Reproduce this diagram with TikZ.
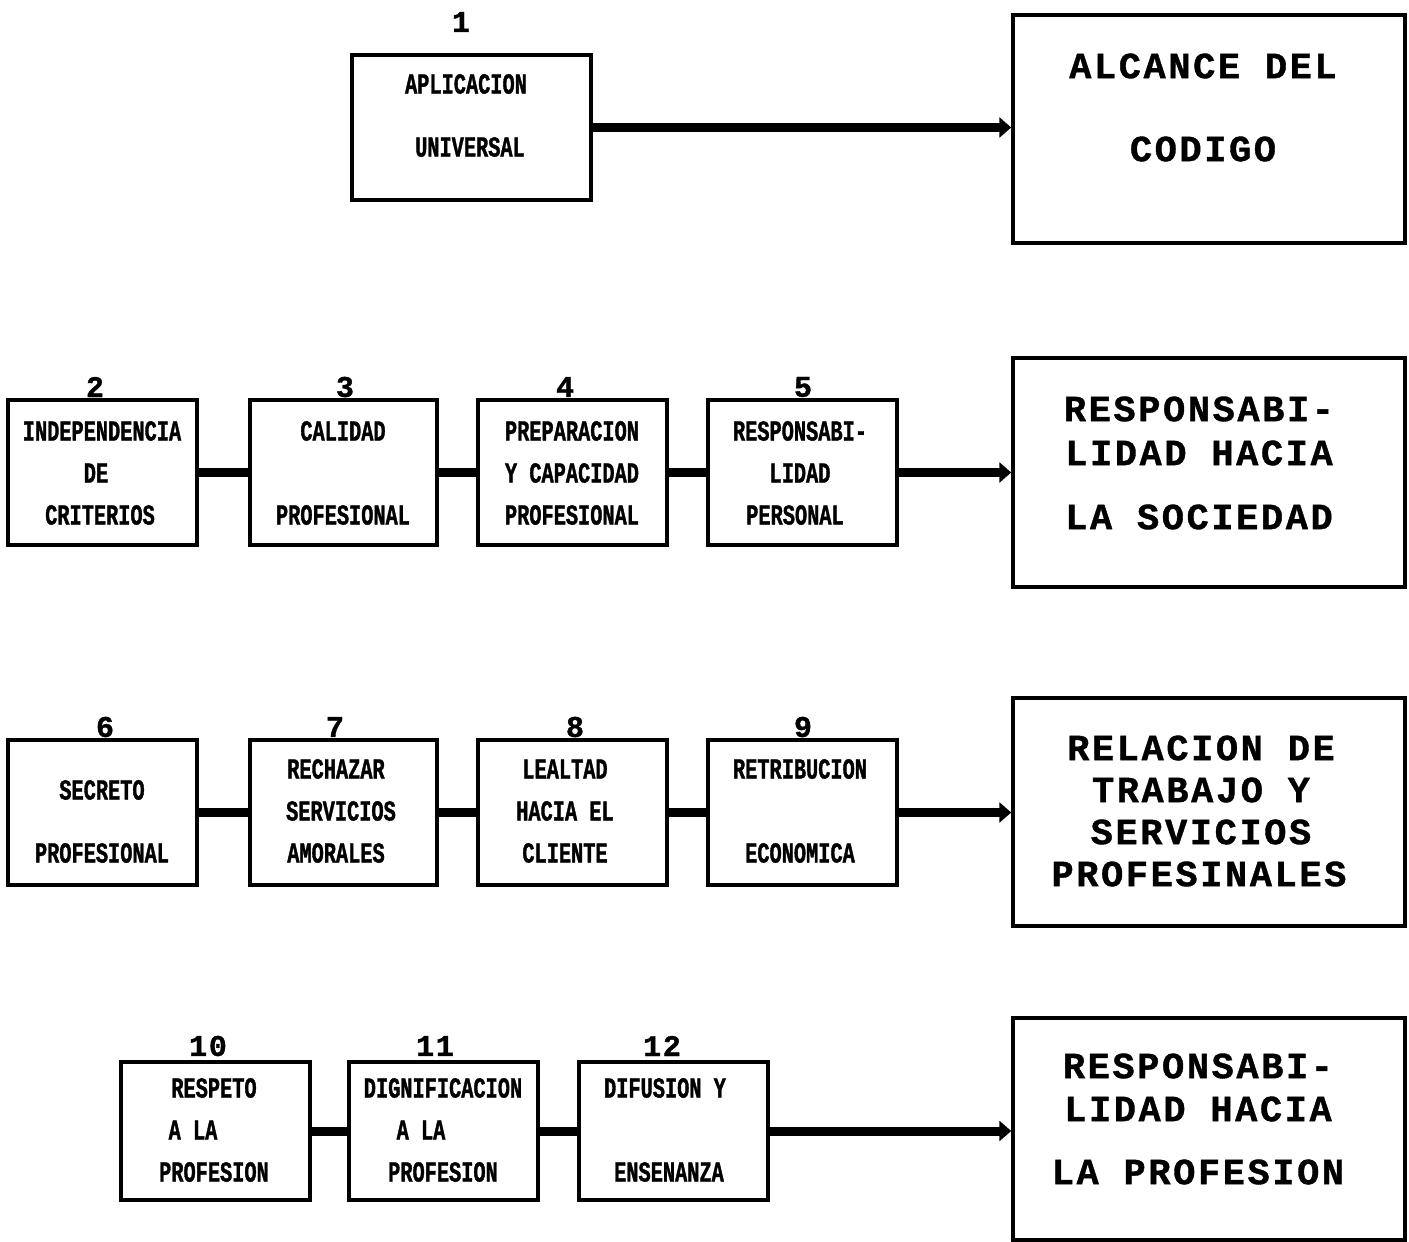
\documentclass[tikz,border=0pt]{standalone}
\usepackage{fontspec}
\usetikzlibrary{arrows.meta}
\newfontfamily\smallf{Liberation Mono}[FakeStretch=0.7,FakeBold=1.2]
\newfontfamily\bigf{Liberation Mono}[LetterSpace=7,FakeBold=1]
\newfontfamily\numf{Liberation Mono}[LetterSpace=6,FakeBold=1.2]
\tikzset{
  sbox/.style={draw, line width=3.5pt, rectangle, inner sep=0pt},
  bbox/.style={draw, line width=3.5pt, rectangle, inner sep=0pt, minimum width=392pt},
  stext/.style={inner sep=0pt, font=\smallf\bfseries\fontsize{29}{29}\selectfont},
  btext/.style={inner sep=0pt, font=\bigf\bfseries\fontsize{37}{37}\selectfont},
  ntext/.style={inner sep=0pt, font=\numf\bfseries\fontsize{30}{30}\selectfont},
  conn/.style={line width=9pt},
  arr/.style={line width=9pt, -{Triangle[length=12pt,width=20pt]}}
}
\begin{document}
\begin{tikzpicture}[x=1pt,y=-1pt]
\useasboundingbox (0,0) rectangle (1409,1242);
% ---------- Row 1
\node[sbox, minimum width=239pt, minimum height=145pt] (b1) at (471.5,127.5) {};
\node[ntext] (n1) at (461,22) {1};
\node[stext] (t1a) at (466,84) {APLICACION};
\node[stext] (t1b) at (470,147) {UNIVERSAL};
\node[bbox, minimum height=228pt] (B1) at (1209,129) {};
\node[btext] (T1a) at (1203,66) {ALCANCE DEL};
\node[btext] (T1b) at (1203,149) {CODIGO};
\draw[arr] (b1.east) -- (B1.west |- b1.east);
% ---------- Row 2
\node[sbox, minimum width=189pt, minimum height=145pt] (b2) at (102.5,472.5) {};
\node[sbox, minimum width=187pt, minimum height=145pt] (b3) at (343.5,472.5) {};
\node[sbox, minimum width=189pt, minimum height=145pt] (b4) at (572.5,472.5) {};
\node[sbox, minimum width=189pt, minimum height=145pt] (b5) at (802.5,472.5) {};
\node[ntext] (n2) at (95,387) {2};
\node[ntext] (n3) at (345,387) {3};
\node[ntext] (n4) at (565,387) {4};
\node[ntext] (n5) at (803,387) {5};
\node[stext] (t2a) at (102,431) {INDEPENDENCIA};
\node[stext] (t2b) at (96,473) {DE};
\node[stext] (t2c) at (100,515) {CRITERIOS};
\node[stext] (t3a) at (343,431) {CALIDAD};
\node[stext] (t3b) at (343,515) {PROFESIONAL};
\node[stext] (t4a) at (572,431) {PREPARACION};
\node[stext] (t4b) at (572,473) {Y CAPACIDAD};
\node[stext] (t4c) at (572,515) {PROFESIONAL};
\node[stext] (t5a) at (800,431) {RESPONSABI-};
\node[stext] (t5b) at (800,473) {LIDAD};
\node[stext] (t5c) at (795,515) {PERSONAL};
\node[bbox, minimum height=229pt] (B2) at (1209,472.5) {};
\node[btext] (T2a) at (1199,409) {RESPONSABI-};
\node[btext] (T2b) at (1199,453) {LIDAD HACIA};
\node[btext] (T2c) at (1199,517) {LA SOCIEDAD};
\draw[conn] (b2.east) -- (b3.west);
\draw[conn] (b3.east) -- (b4.west);
\draw[conn] (b4.east) -- (b5.west);
\draw[arr] (b5.east) -- (B2.west |- b5.east);
% ---------- Row 3
\node[sbox, minimum width=189pt, minimum height=145pt] (b6) at (102.5,812.5) {};
\node[sbox, minimum width=187pt, minimum height=145pt] (b7) at (343.5,812.5) {};
\node[sbox, minimum width=189pt, minimum height=145pt] (b8) at (572.5,812.5) {};
\node[sbox, minimum width=189pt, minimum height=145pt] (b9) at (802.5,812.5) {};
\node[ntext] (n6) at (105,727) {6};
\node[ntext] (n7) at (335,727) {7};
\node[ntext] (n8) at (575,727) {8};
\node[ntext] (n9) at (803,727) {9};
\node[stext] (t6a) at (102,790) {SECRETO};
\node[stext] (t6b) at (102,853) {PROFESIONAL};
\node[stext] (t7a) at (336,769) {RECHAZAR};
\node[stext] (t7b) at (341,811) {SERVICIOS};
\node[stext] (t7c) at (336,853) {AMORALES};
\node[stext] (t8a) at (565,769) {LEALTAD};
\node[stext] (t8b) at (565,811) {HACIA EL};
\node[stext] (t8c) at (565,853) {CLIENTE};
\node[stext] (t9a) at (800,769) {RETRIBUCION};
\node[stext] (t9b) at (800,853) {ECONOMICA};
\node[bbox, minimum height=228pt] (B3) at (1209,812) {};
\node[btext] (T3a) at (1201,748) {RELACION DE};
\node[btext] (T3b) at (1201,790) {TRABAJO Y};
\node[btext] (T3c) at (1201,832) {SERVICIOS};
\node[btext] (T3d) at (1199,874) {PROFESINALES};
\draw[conn] (b6.east) -- (b7.west);
\draw[conn] (b7.east) -- (b8.west);
\draw[conn] (b8.east) -- (b9.west);
\draw[arr] (b9.east) -- (B3.west |- b9.east);
% ---------- Row 4
\node[sbox, minimum width=189pt, minimum height=138pt] (b10) at (215.5,1131) {};
\node[sbox, minimum width=189pt, minimum height=138pt] (b11) at (443.5,1131) {};
\node[sbox, minimum width=189pt, minimum height=138pt] (b12) at (673.5,1131) {};
\node[ntext] (n10) at (208,1046) {10};
\node[ntext] (n11) at (435,1046) {11};
\node[ntext] (n12) at (662,1046) {12};
\node[stext] (t10a) at (214,1088) {RESPETO};
\node[stext] (t10b) at (193,1130) {A LA};
\node[stext] (t10c) at (214,1172) {PROFESION};
\node[stext] (t11a) at (443,1088) {DIGNIFICACION};
\node[stext] (t11b) at (421,1130) {A LA};
\node[stext] (t11c) at (443,1172) {PROFESION};
\node[stext] (t12a) at (665,1088) {DIFUSION Y};
\node[stext] (t12b) at (669,1172) {ENSENANZA};
\node[bbox, minimum height=222pt] (B4) at (1209,1129) {};
\node[btext] (T4a) at (1198,1066) {RESPONSABI-};
\node[btext] (T4b) at (1198,1109) {LIDAD HACIA};
\node[btext] (T4c) at (1198,1172) {LA PROFESION};
\draw[conn] (b10.east) -- (b11.west);
\draw[conn] (b11.east) -- (b12.west);
\draw[arr] (b12.east) -- (B4.west |- b12.east);
\end{tikzpicture}
\end{document}
